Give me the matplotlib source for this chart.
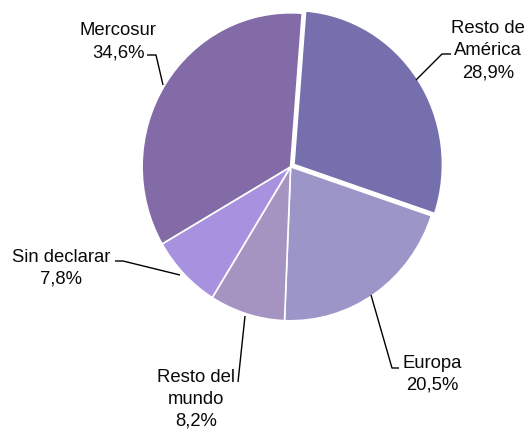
import matplotlib
matplotlib.use("Agg")
import matplotlib.pyplot as plt

# ---- data ----
categories = ["Resto de\nAmérica", "Europa", "Resto del\nmundo", "Sin declarar", "Mercosur"]
values = [28.9, 20.5, 8.2, 7.8, 34.6]
pct_labels = ["28,9%", "20,5%", "8,2%", "7,8%", "34,6%"]
colors = ["#7570AD", "#9C95C7", "#A594C2", "#A892DF", "#836BA7"]
explode = [0.027, 0, 0, 0, 0]

plt.rcParams['font.family'] = ['Liberation Sans', 'DejaVu Sans']

W, H = 529, 429
fig = plt.figure(figsize=(W / 100, H / 100), dpi=100)
ax = fig.add_axes([0, 0, 1, 1])

# pixel geometry of the pie (slightly elliptical in the reference)
CX, CY, SX, SY = 290.6, 166.8, 148.5, 154.0


def px(x, y):
    return ((x - CX) / SX, (CY - y) / SY)


ax.pie(values, colors=colors, startangle=85.5, counterclock=False,
       explode=explode, radius=1.0,
       wedgeprops=dict(edgecolor="white", linewidth=1.2))
ax.set_aspect('auto')
x0, _ = px(0, 0)
x1, _ = px(W, 0)
_, y0 = px(0, H)
_, y1 = px(0, 0)
ax.set_xlim(x0, x1)
ax.set_ylim(y0, y1)
ax.axis('off')

# label layout: (center x, first baseline y) in pixels, leader polyline in pixels
layout = {
    0: ((488, 33), [(451, 54), (442, 54), (416, 80)]),
    1: ((432, 368), [(399, 368), (392, 368), (371, 295)]),
    2: ((196, 381.5), [(238, 382), (245, 316)]),
    3: ((61, 262), [(115, 261), (123, 261), (180, 275)]),
    4: ((118, 35), [(147, 55), (156, 55), (163, 85)]),
}

LS = 22  # px between baselines
for i, (cat, pct) in enumerate(zip(categories, pct_labels)):
    (tx, ty), leader = layout[i]
    lines = cat.split("\n") + [pct]
    for k, line in enumerate(lines):
        ax.text(*px(tx, ty + k * LS), line, ha="center", va="baseline",
                fontsize=13.3, color="#0a0a0a")
    xs, ys = zip(*[px(a, b) for a, b in leader])
    ax.plot(xs, ys, color="black", linewidth=1.0, solid_capstyle="butt")

fig.savefig("out.png", dpi=100)
